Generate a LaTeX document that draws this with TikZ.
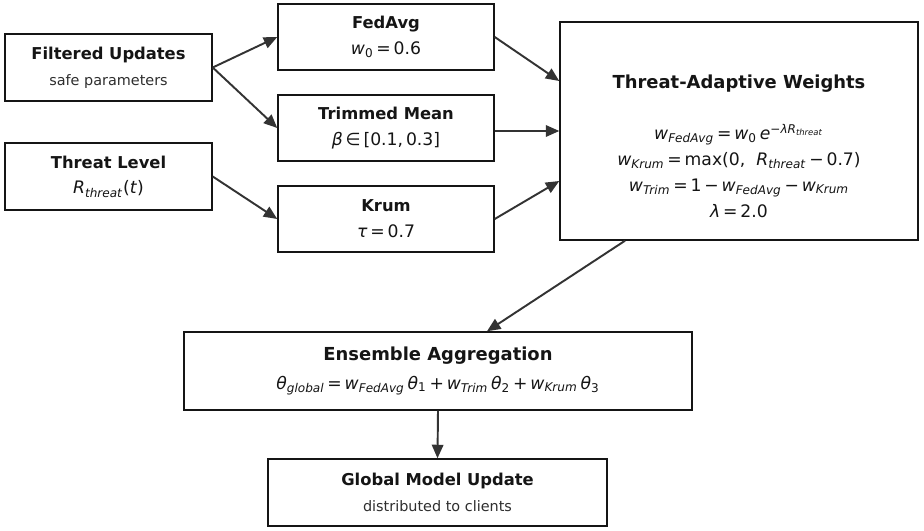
\documentclass[tikz,border=0pt]{standalone}
\usepackage{fontspec}
\setmainfont{DejaVu Sans}
\usepackage{tikz}
\usetikzlibrary{arrows.meta, positioning}
\definecolor{fgdark}{HTML}{151515}
\definecolor{fggrey}{HTML}{2E2E2E}
\definecolor{arrgrey}{HTML}{333333}

\newcommand{\mv}[1]{\textit{#1}}
\newcommand{\sbi}[1]{\textsubscript{\textit{#1}}}

\begin{document}
\begin{tikzpicture}[x=0.02cm, y=-0.02cm,
      every node/.style={align=center, text=fgdark, font=\fontsize{9.8}{14.7}\selectfont},
      box/.style={rectangle, draw=fgdark, line width=0.85pt, fill=white, inner sep=0pt},
      arr/.style={-{Triangle[length=2.7mm, width=2.3mm]}, line width=1.1pt, draw=arrgrey}
    ]
    \useasboundingbox (0,0) rectangle (924,531);

    \newcommand{\hdtxt}[1]{{\fontsize{9.3}{14.7}\selectfont\bfseries #1}}
    \newcommand{\bighd}[1]{{\fontsize{10.2}{14.7}\selectfont\bfseries #1}}
    \newcommand{\subtxt}[1]{{\fontsize{8.2}{14.7}\selectfont\color{fggrey}#1}}

    % inputs
    \node[box, minimum width=4.14cm, minimum height=1.34cm] (filt)
      at (108.5,67.5) {\hdtxt{Filtered Updates}\\\subtxt{safe parameters}};
    \node[box, minimum width=4.14cm, minimum height=1.34cm] (thr)
      at (108.5,176.5) {\hdtxt{Threat Level}\\\mv{R}\sbi{threat}(\mv{t})};

    % base aggregators
    \node[box, minimum width=4.32cm, minimum height=1.32cm] (fedavg)
      at (386,37) {\hdtxt{FedAvg}\\\mv{w}\textsubscript{0}\,=\,0.6};
    \node[box, minimum width=4.32cm, minimum height=1.32cm] (trim)
      at (386,128) {\hdtxt{Trimmed Mean}\\\mv{β}\,∈\,[0.1,\,0.3]};
    \node[box, minimum width=4.32cm, minimum height=1.32cm] (krum)
      at (386,219) {\hdtxt{Krum}\\\mv{τ}\,=\,0.7};

    % weighting
    \node[box, minimum width=7.16cm, minimum height=4.36cm] (taw) at (739,131) {};
    \node (tawtxt) at (739,146) {\bighd{Threat-Adaptive Weights}\\[14.5pt]
        \mv{w}\sbi{FedAvg}\,=\,\mv{w}\textsubscript{0}\,\mv{e}\textsuperscript{−\mv{λR}\sbi{threat}}\\
        \mv{w}\sbi{Krum}\,=\,max(0,\ \ \mv{R}\sbi{threat}\,−\,0.7)\\
        \mv{w}\sbi{Trim}\,=\,1\,−\,\mv{w}\sbi{FedAvg}\,−\,\mv{w}\sbi{Krum}\\
        \mv{λ}\,=\,2.0};

    % output
    \node[box, minimum width=10.16cm, minimum height=1.56cm] (ens)
      at (438,371) {\bighd{Ensemble Aggregation}\\[1.5pt]
        \mv{θ}\sbi{global}\,=\,\mv{w}\sbi{FedAvg}\,\mv{θ}\textsubscript{1}\,+\,\mv{w}\sbi{Trim}\,\mv{θ}\textsubscript{2}\,+\,\mv{w}\sbi{Krum}\,\mv{θ}\textsubscript{3}};
    \node[box, minimum width=6.78cm, minimum height=1.34cm] (glob)
      at (437.5,492.5) {\hdtxt{Global Model Update}\\\subtxt{distributed to clients}};

    \draw[arr] (filt.east) -- (fedavg.west);
    \draw[arr] (filt.east) -- (trim.west);
    \draw[arr] (thr.east) -- (krum.west);
    \draw[arr] (fedavg.east) -- ([yshift=1.0cm]taw.west);
    \draw[arr] (trim.east |- taw.west) -- (taw.west);
    \draw[arr] (krum.east) -- ([yshift=-1.0cm]taw.west);
    \draw[arr] ([xshift=-2.28cm]taw.south) -- ([xshift=0.98cm]ens.north);
    \draw[arr] (ens.south) -- (glob.north);
  \end{tikzpicture}
\end{document}
